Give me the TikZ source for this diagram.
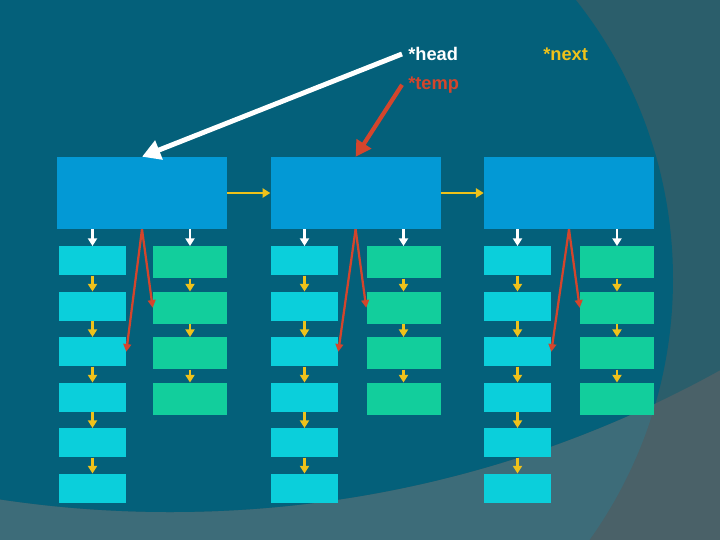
\documentclass[tikz,border=0pt]{standalone}
\usepackage{fontspec}
\setmainfont{Liberation Sans}
\usetikzlibrary{arrows.meta}

\definecolor{bgteal}{HTML}{04607A}
\definecolor{bggray}{HTML}{2B5E6B}
\definecolor{bgband}{HTML}{3D6C79}
\definecolor{bgcorner}{HTML}{4A6168}
\definecolor{headblue}{HTML}{0399D5}
\definecolor{keycyan}{HTML}{0BCFDB}
\definecolor{valgreen}{HTML}{12CE9C}
\definecolor{linkyellow}{HTML}{EFC21A}
\definecolor{tempred}{HTML}{D4452C}

\begin{document}
\begin{tikzpicture}[
        headbox/.style={rectangle, fill=headblue, minimum width=4.25cm, minimum height=1.8cm, inner sep=0pt},
        keybox/.style={rectangle, fill=keycyan, anchor=north, minimum width=1.675cm, minimum height=0.725cm, inner sep=0pt},
        valbox/.style={rectangle, fill=valgreen, anchor=north, minimum width=1.85cm, minimum height=0.8cm, inner sep=0pt},
        ptrlabel/.style={anchor=west, inner xsep=0.15cm, font=\fontsize{13}{15}\selectfont\bfseries},
        link/.style={draw=linkyellow, line width=2pt, -{Triangle[width=6.5pt,length=5.5pt]}},
        down/.style={draw=white, line width=2pt, -{Triangle[width=6.5pt,length=5.5pt]}},
        tmplink/.style={draw=tempred, line width=1.6pt, -{Triangle[width=5.5pt,length=5.5pt]}},
        headptr/.style={draw=white, line width=3.5pt, -{Triangle[width=14pt,length=13pt]}},
        tempptr/.style={draw=tempred, line width=3pt, -{Triangle[width=12pt,length=11pt]}},
    ]
    % Column x-positions
    \def\hA{3.55}     \def\hB{8.89}     \def\hC{14.225}   % list nodes
    \def\kA{2.3125}   \def\kB{7.6125}   \def\kC{12.9375}  % left chains
    \def\vA{4.75}     \def\vB{10.0875}  \def\vC{15.425}   % right chains
    % Row tops
    \def\rA{-6.15} \def\rB{-7.2875} \def\rC{-8.425} \def\rD{-9.5625} \def\rE{-10.7} \def\rF{-11.8375}

    % ===== Background =====
    \useasboundingbox (0,0) rectangle (18,-13.5);
    \clip (0,0) rectangle (18,-13.5);
    \fill[bgcorner] (0,0) rectangle (18,-13.5);
    \fill[bgband] (5.6,-6.975) circle[radius=11.225cm];
    \fill[bggray] (4.25,15.6) circle[radius=28.4cm];
    \begin{scope}
        \clip (4.25,15.6) circle[radius=28.4cm];
        \fill[bgteal] (5.6,-6.975) circle[radius=11.225cm];
    \end{scope}

    % ===== Pointer labels =====
    \node[ptrlabel, text=white] (head) at (10.05, -1.35) {*head};
    \node[ptrlabel, text=tempred] (temp) at (10.05, -2.12) {*temp};
    \node[ptrlabel, text=linkyellow] (next) at (13.425, -1.35) {*next};

    % ===== List nodes =====
    \node[headbox] (hA) at (\hA, -4.825) {};
    \node[headbox] (hB) at (\hB, -4.825) {};
    \node[headbox] (hC) at (\hC, -4.825) {};

    % ===== Column A =====
    \node[keybox] (kA1) at (\kA, \rA) {}; \node[keybox] (kA2) at (\kA, \rB) {}; \node[keybox] (kA3) at (\kA, \rC) {};
    \node[keybox] (kA4) at (\kA, \rD) {}; \node[keybox] (kA5) at (\kA, \rE) {}; \node[keybox] (kA6) at (\kA, \rF) {};
    \node[valbox] (vA1) at (\vA, \rA) {}; \node[valbox] (vA2) at (\vA, \rB) {}; \node[valbox] (vA3) at (\vA, \rC) {};
    \node[valbox] (vA4) at (\vA, \rD) {};

    % ===== Column B =====
    \node[keybox] (kB1) at (\kB, \rA) {}; \node[keybox] (kB2) at (\kB, \rB) {}; \node[keybox] (kB3) at (\kB, \rC) {};
    \node[keybox] (kB4) at (\kB, \rD) {}; \node[keybox] (kB5) at (\kB, \rE) {}; \node[keybox] (kB6) at (\kB, \rF) {};
    \node[valbox] (vB1) at (\vB, \rA) {}; \node[valbox] (vB2) at (\vB, \rB) {}; \node[valbox] (vB3) at (\vB, \rC) {};
    \node[valbox] (vB4) at (\vB, \rD) {};

    % ===== Column C =====
    \node[keybox] (kC1) at (\kC, \rA) {}; \node[keybox] (kC2) at (\kC, \rB) {}; \node[keybox] (kC3) at (\kC, \rC) {};
    \node[keybox] (kC4) at (\kC, \rD) {}; \node[keybox] (kC5) at (\kC, \rE) {}; \node[keybox] (kC6) at (\kC, \rF) {};
    \node[valbox] (vC1) at (\vC, \rA) {}; \node[valbox] (vC2) at (\vC, \rB) {}; \node[valbox] (vC3) at (\vC, \rC) {};
    \node[valbox] (vC4) at (\vC, \rD) {};

    % ===== Next links =====
    \draw[link] (hA) -- (hB);
    \draw[link] (hB) -- (hC);

    % ===== Chains =====
    \draw[down] (kA1.north |- hA.south) -- (kA1.north); \draw[down] (vA1.north |- hA.south) -- (vA1.north);
    \draw[down] (kB1.north |- hB.south) -- (kB1.north); \draw[down] (vB1.north |- hB.south) -- (vB1.north);
    \draw[down] (kC1.north |- hC.south) -- (kC1.north); \draw[down] (vC1.north |- hC.south) -- (vC1.north);

    \draw[link] (kA1) -- (kA2); \draw[link] (kA2) -- (kA3); \draw[link] (kA3) -- (kA4); \draw[link] (kA4) -- (kA5); \draw[link] (kA5) -- (kA6);
    \draw[link] (kB1) -- (kB2); \draw[link] (kB2) -- (kB3); \draw[link] (kB3) -- (kB4); \draw[link] (kB4) -- (kB5); \draw[link] (kB5) -- (kB6);
    \draw[link] (kC1) -- (kC2); \draw[link] (kC2) -- (kC3); \draw[link] (kC3) -- (kC4); \draw[link] (kC4) -- (kC5); \draw[link] (kC5) -- (kC6);
    \draw[link] (vA1) -- (vA2); \draw[link] (vA2) -- (vA3); \draw[link] (vA3) -- (vA4);
    \draw[link] (vB1) -- (vB2); \draw[link] (vB2) -- (vB3); \draw[link] (vB3) -- (vB4);
    \draw[link] (vC1) -- (vC2); \draw[link] (vC2) -- (vC3); \draw[link] (vC3) -- (vC4);

    % ===== Temp links =====
    \draw[tmplink] (hA.south) -- (vA2.west); \draw[tmplink] (hA.south) -- (kA3.east);
    \draw[tmplink] (hB.south) -- (vB2.west); \draw[tmplink] (hB.south) -- (kB3.east);
    \draw[tmplink] (hC.south) -- (vC2.west); \draw[tmplink] (hC.south) -- (kC3.east);

    % ===== Pointers =====
    \draw[headptr] (head.west) -- (hA.north);
    \draw[tempptr] (temp.west) -- (hB.north);

    \end{tikzpicture}
\end{document}
